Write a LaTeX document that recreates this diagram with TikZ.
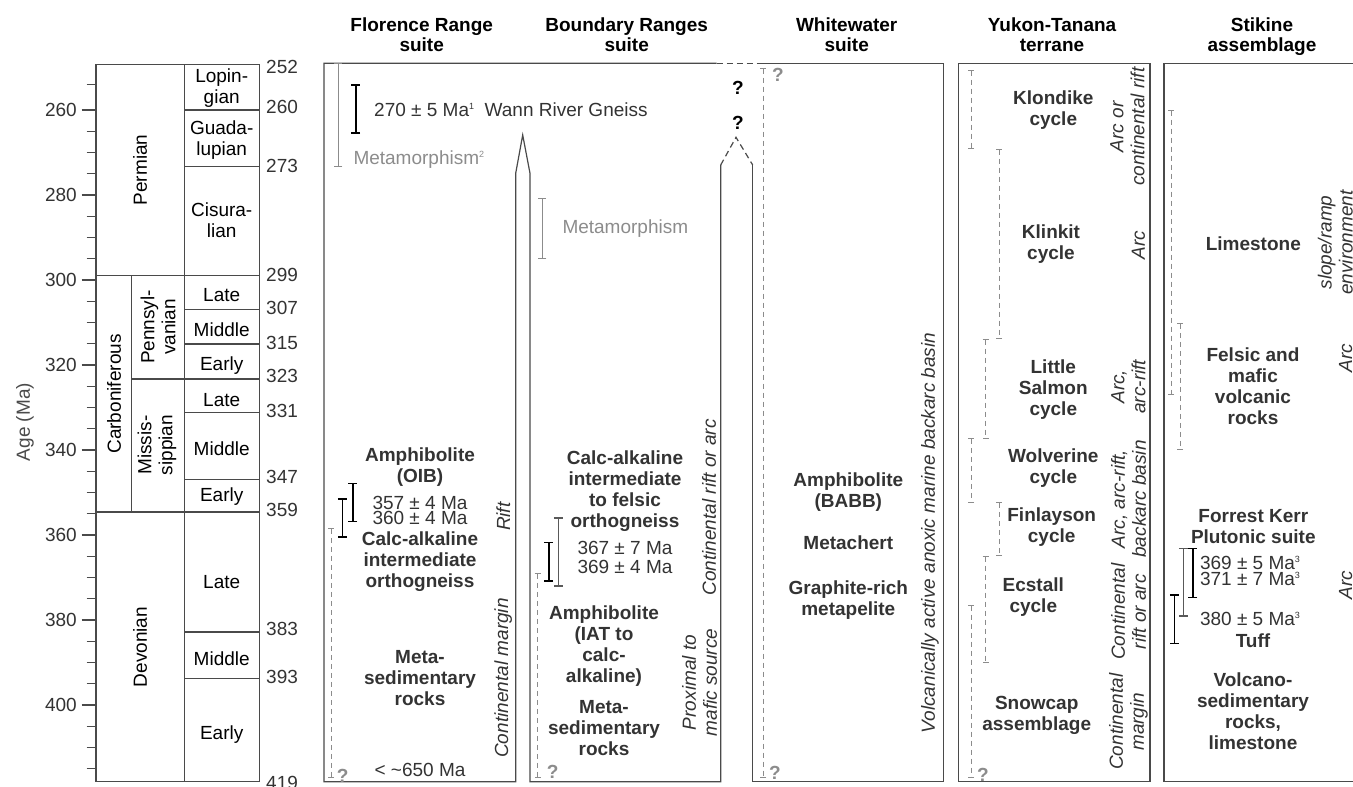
\documentclass[tikz,border=0pt]{standalone}
\usepackage{fontspec}
\setmainfont{Liberation Sans}
\usetikzlibrary{arrows.meta}
\definecolor{txt}{HTML}{333333}
\definecolor{gr}{HTML}{8C8C8C}
\definecolor{ln}{HTML}{4A4A4A}
\newcommand{\sps}[1]{\raisebox{7pt}{\fontsize{9}{9}\selectfont #1}}
\begin{document}
\begin{tikzpicture}[x=1pt,y=-1pt,font=\fontsize{19}{21}\selectfont,
  hd/.style={font=\fontsize{19}{20}\selectfont\bfseries,text=black,align=center,inner sep=0,anchor=north},
  bt/.style={font=\fontsize{19}{21}\selectfont\bfseries,text=txt,align=center,inner sep=0},
  nt/.style={text=txt,align=center,inner sep=0},
  gt/.style={text=gr,align=center,inner sep=0},
  it/.style={font=\fontsize{19}{21}\selectfont\itshape,text=txt,rotate=90,align=center,inner sep=0},
  rt/.style={text=black,rotate=90,align=center,inner sep=0},
  col/.style={draw=ln,line width=1.2pt},
  box/.style={draw=ln,line width=1.2pt},
  boxd/.style={draw=ln,line width=1.2pt,dash pattern=on 6pt off 4pt},
  ebar/.style={draw=black,line width=1.6pt,{Bar[width=9pt]}-{Bar[width=9pt]}},
  mbar/.style={draw=black!65,line width=1.6pt,{Bar[width=9pt]}-{Bar[width=9pt]}},
  gbar/.style={draw=gr,line width=1pt,{Bar[width=8pt]}-{Bar[width=8pt]}},
  dbar/.style={draw=gr,line width=0.8pt,dash pattern=on 5pt off 4pt,{Bar[width=6pt]}-{Bar[width=6pt]}}]
\useasboundingbox (0,0) rectangle (1353,787);

% ---------- time scale ----------
\foreach \a in {260,280,...,400}{
  \draw[col] (81.7,{110+(\a-260)*4.25}) -- (96,{110+(\a-260)*4.25});
  \node[nt,anchor=east] (tick\a) at (77,{110+(\a-260)*4.25}) {\a};
}
\foreach \a in {265,270,275,285,290,295,305,310,315,325,330,335,345,350,355,365,370,375,385,390,395,405,410,415}{
  \draw[col] (86.7,{110+(\a-260)*4.25}) -- (96,{110+(\a-260)*4.25});
}
\draw[col] (86.7,84.3) -- (96,84.3);
\node[gt,rotate=90,text=ln] (agelab) at (25,422) {Age (Ma)};

\draw[col] (96,64.3) rectangle (259.3,781.7);
\draw[col] (184.3,64.3) -- (184.3,781.7);
\foreach \yy in {110,166.7,309.3,344,412.3,479.3,632,678.7}{
  \draw[col] (184.3,\yy) -- (259.3,\yy);
}
\draw[col] (96,275.7) -- (259.3,275.7);
\draw[col] (96,512) -- (259.3,512);
\draw[col] (131.7,275.7) -- (131.7,512);
\draw[col] (131.7,379) -- (259.3,379);

\node[rt] (perm) at (140,170) {Permian};
\node[rt] (carb) at (114,394) {Carboniferous};
\node[rt] (penn) at (158,327) {Pennsyl-\\vanian};
\node[rt] (miss) at (157,445) {Missis-\\sippian};
\node[rt] (devo) at (140,647) {Devonian};

\node[nt,text=black] (lop) at (221.7,88) {Lopin-\\gian};
\node[nt,text=black] (gua) at (221.7,140) {Guada-\\lupian};
\node[nt,text=black] (cis) at (221.7,220) {Cisura-\\lian};
\node[nt,text=black] (pl) at (221.7,295) {Late};
\node[nt,text=black] (pm) at (221.7,330) {Middle};
\node[nt,text=black] (pe) at (221.7,366) {Early};
\node[nt,text=black] (ml) at (221.7,400) {Late};
\node[nt,text=black] (mm) at (221.7,448.3) {Middle};
\node[nt,text=black] (me) at (221.7,496.7) {Early};
\node[nt,text=black] (dl) at (221.7,581.7) {Late};
\node[nt,text=black] (dm) at (221.7,658.3) {Middle};
\node[nt,text=black] (de) at (221.7,735) {Early};

\foreach \v/\yy in {252/66.7,260/107,273/166,299/275,307/308,315/343,323/376,331/410.7,347/476.7,359/510,383/629.3,393/676.7,419/783}{
  \node[nt,anchor=west] (b\v) at (266,\yy) {\v};
}

% ---------- headers ----------
\node[hd] (h1) at (421.7,17.5) {Florence Range\\suite};
\node[hd] (h2) at (626.7,17.5) {Boundary Ranges\\suite};
\node[hd] (h3) at (846.7,17.5) {Whitewater\\suite};
\node[hd] (h4) at (1052,17.5) {Yukon-Tanana\\terrane};
\node[hd] (h5) at (1262,17.5) {Stikine\\assemblage};

% ---------- boxes ----------
\draw[box] (716.7,63.3) -- (324,63.3) -- (324,781.7) -- (515.7,781.7) -- (515.7,173.3) -- (522.7,135) -- (530,173.3) -- (530,781.7) -- (720.7,781.7) -- (720.7,165);
\draw[boxd] (720.7,165) -- (736,137.3) -- (752.7,165);
\draw[box] (752.7,165) -- (752.7,781.7) -- (943.3,781.7) -- (943.3,63.3) -- (756.7,63.3);
\draw[boxd] (716.7,63.3) -- (756.7,63.3);
\draw[box] (958.3,63.3) rectangle (1150,781.7);
\draw[box] (1360,63.3) -- (1164,63.3) -- (1164,781.7) -- (1360,781.7);

% ---------- Florence Range suite ----------
\draw[gbar] (338.3,63.3) -- (338.3,166.7);
\node[gt,anchor=west] (fmet) at (353.3,160) {Metamorphism\sps{2}};
\draw[ebar] (355.7,84) -- (355.7,134);
\node[nt,anchor=west] (fwann) at (374,110) {270 ± 5 Ma\sps{1}\ \ Wann River Gneiss};
\node[bt] (famph) at (420,467.5) {Amphibolite\\(OIB)};
\draw[ebar] (352.7,482.7) -- (352.7,522.3);
\draw[ebar] (342.3,498.3) -- (342.3,537.7);
\node[nt] (f357) at (420,503.3) {357 ± 4 Ma};
\node[nt] (f360) at (420,518.3) {360 ± 4 Ma};
\node[bt] (fcalc) at (420,562) {Calc-alkaline\\intermediate\\orthogneiss};
\node[bt] (fmeta) at (420,678.5) {Meta-\\sedimentary\\rocks};
\node[nt] (f650) at (420,770) {< \textasciitilde650 Ma};
\draw[dbar] (331,528.3) -- (331,777.3);
\node[gt,font=\fontsize{19}{21}\selectfont\bfseries] (fq) at (342.7,776) {?};
\node[it] (frift) at (503.3,516.7) {Rift};
\node[it] (fcm) at (503.3,678) {Continental margin};

% ---------- Boundary Ranges suite ----------
\draw[gbar] (542.3,198.3) -- (542.3,259.3);
\node[gt,anchor=west] (bmet) at (562.3,228.3) {Metamorphism};
\node[bt] (bcalc) at (625,491.5) {Calc-alkaline\\intermediate\\to felsic\\orthogneiss};
\draw[mbar] (558.3,517.3) -- (558.3,586.7);
\draw[ebar] (548.7,541.7) -- (548.7,581.7);
\node[nt] (b367) at (625,548.3) {367 ± 7 Ma};
\node[nt] (b369) at (625,566.7) {369 ± 4 Ma};
\draw[dbar] (537.7,573.3) -- (537.7,777.3);
\node[gt,font=\fontsize{19}{21}\selectfont\bfseries] (bq) at (552.7,771.7) {?};
\node[bt] (bamph) at (604,646) {Amphibolite\\(IAT to\\calc-\\alkaline)};
\node[bt] (bmeta) at (604,728.5) {Meta-\\sedimentary\\rocks};
\node[it] (bcra) at (709,507.5) {Continental rift or arc};
\node[it] (bprox) at (699.5,682.5) {Proximal to\\mafic source};

% ---------- Whitewater suite ----------
\node[bt,text=black] (wq1) at (738,88) {?};
\node[bt,text=black] (wq2) at (738,123) {?};
\draw[dbar] (763.3,68) -- (763.3,777.3);
\node[gt,font=\fontsize{19}{21}\selectfont\bfseries] (wq3) at (778,75) {?};
\node[gt,font=\fontsize{19}{21}\selectfont\bfseries] (wq4) at (775,773) {?};
\node[bt] (wamph) at (848.3,491.7) {Amphibolite\\(BABB)};
\node[bt] (wchert) at (848.3,542.7) {Metachert};
\node[bt] (wgraph) at (848.3,599.7) {Graphite-rich\\metapelite};
\node[it] (wvol) at (930,533) {Volcanically active anoxic marine backarc basin};

% ---------- Yukon-Tanana terrane ----------
\draw[dbar] (971,70) -- (971,149);
\draw[dbar] (999,149) -- (999,339);
\draw[dbar] (985.7,339) -- (985.7,438.3);
\draw[dbar] (971,438.3) -- (971,502.3);
\draw[dbar] (999,502.3) -- (999,556);
\draw[dbar] (985.7,556) -- (985.7,662.3);
\draw[dbar] (971,605) -- (971,777.3);
\node[gt,font=\fontsize{19}{21}\selectfont\bfseries] (yq) at (983,775) {?};
\node[bt] (yklon) at (1053.3,110) {Klondike\\cycle};
\node[bt] (yklin) at (1051,243.7) {Klinkit\\cycle};
\node[bt] (ylit) at (1053.3,390) {Little\\Salmon\\cycle};
\node[bt] (ywol) at (1053.3,468.3) {Wolverine\\cycle};
\node[bt] (yfin) at (1051.7,526.7) {Finlayson\\cycle};
\node[bt] (yecs) at (1033.3,596.7) {Ecstall\\cycle};
\node[bt] (ysnow) at (1036.7,715) {Snowcap\\assemblage};
\node[it] (yi1) at (1127.5,126.7) {Arc or\\continental rift};
\node[it] (yi2) at (1138.3,245) {Arc};
\node[it] (yi3) at (1128.5,386.7) {Arc,\\arc-rift};
\node[it] (yi4) at (1128.5,499) {Arc, arc-rift,\\backarc basin};
\node[it] (yi5) at (1128.5,611.7) {Continental\\rift or arc};
\node[it] (yi6) at (1128.5,721.7) {Continental\\margin};

% ---------- Stikine assemblage ----------
\draw[dbar] (1171,110) -- (1171,395);
\draw[dbar] (1180,323.3) -- (1180,449.3);
\node[bt] (slime) at (1253.3,243.3) {Limestone};
\node[bt] (sfel) at (1253,386.5) {Felsic and\\mafic\\volcanic\\rocks};
\node[bt] (sfk) at (1253.3,526.3) {Forrest Kerr\\Plutonic suite};
\draw[ebar] (1192.7,547.7) -- (1192.7,598.3);
\draw[mbar] (1183.3,547.7) -- (1183.3,616.7);
\draw[ebar] (1174.3,594.3) -- (1174.3,644.3);
\node[nt] (s369) at (1250,562.7) {369 ± 5 Ma\sps{3}};
\node[nt] (s371) at (1250,579.3) {371 ± 7 Ma\sps{3}};
\node[nt] (s380) at (1250,619.3) {380 ± 5 Ma\sps{3}};
\node[bt] (stuff) at (1253,641) {Tuff};
\node[bt] (svol) at (1253,711.3) {Volcano-\\sedimentary\\rocks,\\limestone};
\node[it,anchor=south] (si1) at (1353,242.5) {slope/ramp\\environment};
\node[it,anchor=south] (si2) at (1352.5,358) {Arc};
\node[it,anchor=south] (si3) at (1352.5,585) {Arc};
\end{tikzpicture}
\end{document}
